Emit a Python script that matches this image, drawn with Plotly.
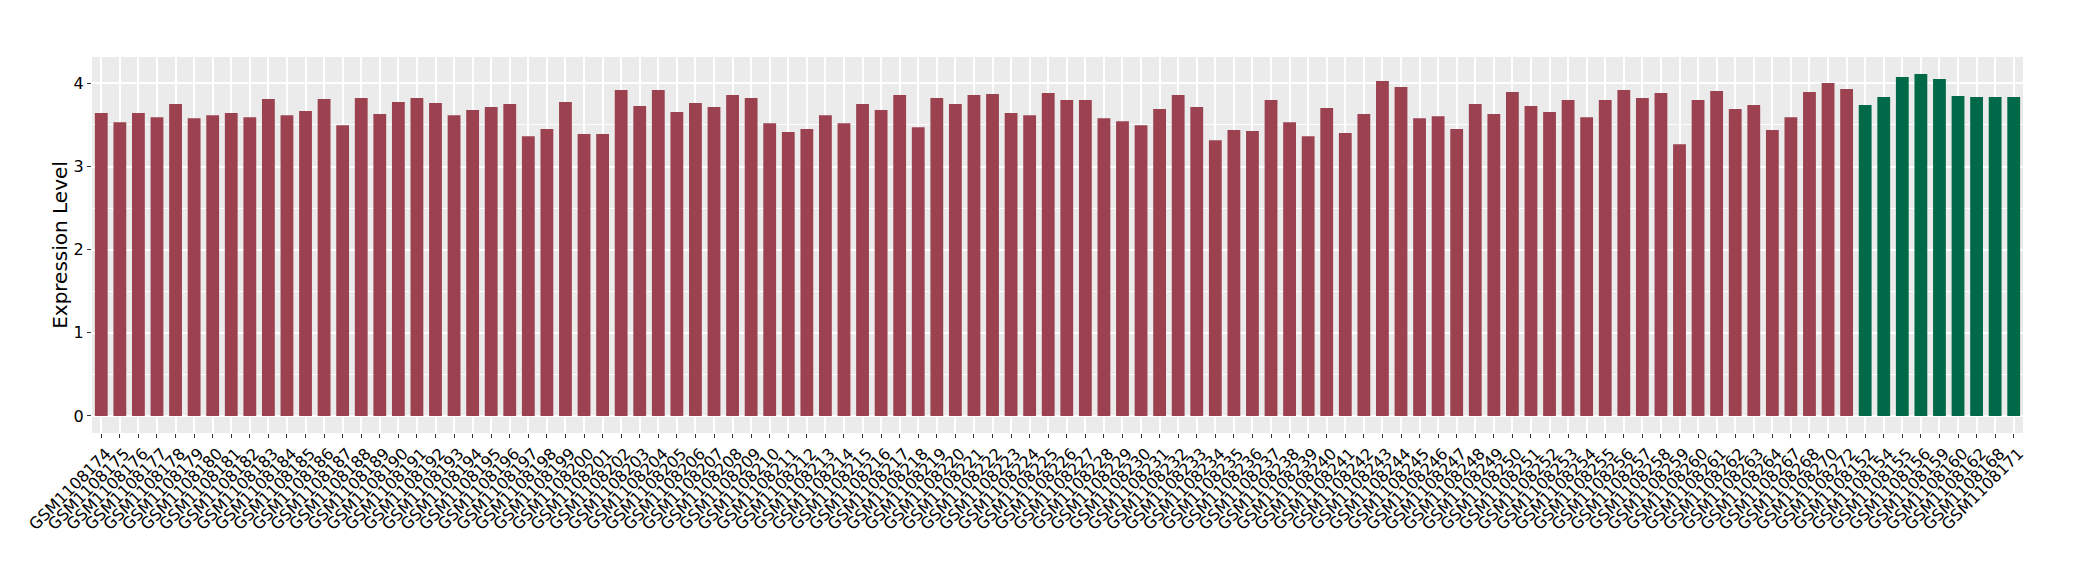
import plotly.graph_objects as go

red_ids = [str(n) for n in range(1108174, 1108265)] + ["1108267", "1108268", "1108270", "1108272"]
green_ids = ["1108152", "1108154", "1108155", "1108156", "1108159", "1108160", "1108162", "1108168", "1108171"]

samples = ["GSM" + s for s in red_ids + green_ids]

red_values = [
    3.643, 3.534, 3.643, 3.594, 3.751, 3.582, 3.618, 3.643, 3.594, 3.811,
    3.618, 3.667, 3.811, 3.498, 3.823, 3.631, 3.775, 3.823, 3.763, 3.618,
    3.679, 3.715, 3.751, 3.365, 3.450, 3.775, 3.390, 3.390, 3.920, 3.727,
    3.920, 3.655, 3.763, 3.715, 3.859, 3.823, 3.522, 3.414, 3.450, 3.618,
    3.522, 3.751, 3.679, 3.859, 3.474, 3.823, 3.751, 3.859, 3.871, 3.643,
    3.618, 3.884, 3.799, 3.799, 3.582, 3.546, 3.498, 3.691, 3.859, 3.715,
    3.317, 3.438, 3.426, 3.799, 3.534, 3.365, 3.703, 3.402, 3.631, 4.028,
    3.956, 3.582, 3.606, 3.450, 3.751, 3.631, 3.896, 3.727, 3.655, 3.799,
    3.594, 3.799, 3.920, 3.823, 3.884, 3.269, 3.799, 3.908, 3.691, 3.739,
    3.438, 3.594, 3.896, 4.004, 3.932,
]
green_values = [3.739, 3.835, 4.076, 4.112, 4.052, 3.847, 3.835, 3.835, 3.835]

values = red_values + green_values
groups = ["red"] * len(red_values) + ["green"] * len(green_values)
group_colors = {"red": "#9B4150", "green": "#006A48"}

fig = go.Figure(
    go.Bar(
        x=samples,
        y=values,
        marker=dict(color=[group_colors[g] for g in groups], line=dict(width=0)),
        showlegend=False,
    )
)

ymax = max(values)
pad = ymax * 0.05

# page body has an 8px default margin, so the figure is 8px smaller
fig.update_layout(
    width=2072,
    height=572,
    margin=dict(l=84, r=57, t=49, b=147),
    paper_bgcolor="white",
    plot_bgcolor="#EBEBEB",
    bargap=0.31,
    font=dict(family="DejaVu Sans", color="black"),
)
fig.update_xaxes(
    type="category",
    categoryorder="array",
    categoryarray=samples,
    tickmode="array",
    tickvals=samples,
    ticktext=samples,
    tickangle=-45,
    tickfont=dict(size=16, color="black"),
    ticklabelshift=5,
    showgrid=True,
    gridcolor="white",
    gridwidth=1.5,
    ticks="outside",
    ticklen=4,
    tickcolor="#333333",
    showline=False,
    zeroline=False,
    automargin=False,
)
fig.update_yaxes(
    range=[-pad, ymax + pad],
    tickvals=[0, 1, 2, 3, 4],
    tickfont=dict(size=16, color="black"),
    showgrid=True,
    gridcolor="white",
    gridwidth=1.5,
    minor=dict(dtick=0.5, tick0=0, showgrid=True, gridcolor="white", gridwidth=0.6),
    ticks="outside",
    ticklen=4,
    tickcolor="#333333",
    showline=False,
    zeroline=False,
    automargin=False,
    title=dict(text="Expression Level", font=dict(size=20, color="black"), standoff=0),
)

fig.write_html("out.html")
